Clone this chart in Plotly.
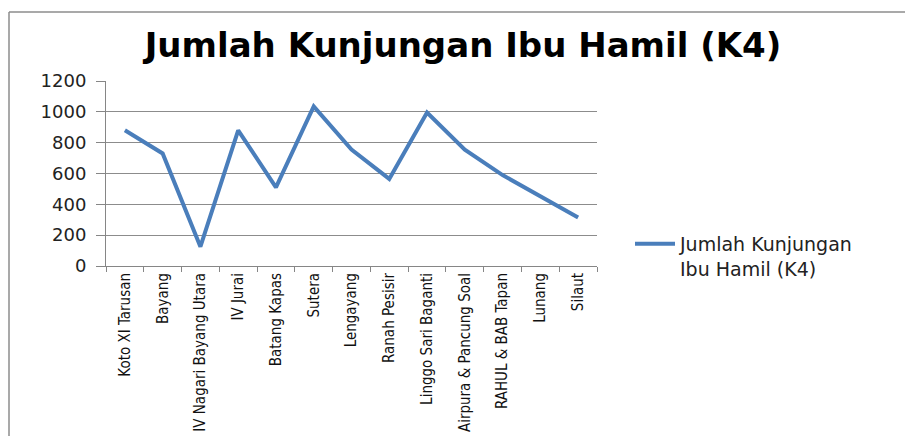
import plotly.graph_objects as go

categories = ["Koto XI Tarusan", "Bayang", "IV Nagari Bayang Utara", "IV Jurai",
              "Batang Kapas", "Sutera", "Lengayang", "Ranah Pesisir",
              "Linggo Sari Baganti", "Airpura & Pancung Soal", "RAHUL & BAB Tapan",
              "Lunang", "Silaut"]
values = [880, 730, 125, 880, 510, 1035, 755, 565, 995, 755, 590, 450, 315]
series_name = "Jumlah Kunjungan<br>Ibu Hamil (K4)"
y_ticks = [0, 200, 400, 600, 800, 1000, 1200]

fig = go.Figure()
fig.add_trace(go.Scatter(x=categories, y=values, mode="lines", name=series_name,
                         line=dict(color="#4A7EBB", width=4), showlegend=True))

# page has an 8px body margin; work in figure coordinates
W, H = 905, 428
l, r, t, b = 98, 316, 73, 170
pw, ph = W - l - r, H - t - b
fig.update_layout(
    width=W, height=H,
    margin=dict(l=l, r=r, t=t, b=b, autoexpand=False),
    paper_bgcolor="white", plot_bgcolor="white",
    title=dict(text="<b>Jumlah Kunjungan Ibu Hamil (K4)</b>", x=455/W, xanchor="center",
               y=1-37/H, yanchor="middle",
               font=dict(family="DejaVu Sans", size=34, color="black")),
    showlegend=True,
    legend=dict(x=(622-l)/pw, xanchor="left", y=(258-217)/ph, yanchor="top",
                valign="top",
                font=dict(family="DejaVu Sans", size=19, color="#222"),
                bgcolor="rgba(0,0,0,0)", itemwidth=40),
    xaxis=dict(type="category", range=[-0.5, len(categories)-0.5], tickangle=-90,
               ticks="outside", tickson="boundaries",
               ticklen=5, tickcolor="#868686", showline=True, linecolor="#868686",
               linewidth=1, showgrid=False,
               tickfont=dict(family="Liberation Sans Narrow, Arial Narrow, DejaVu Sans Condensed, sans-serif",
                             size=15, color="#111")),
    yaxis=dict(range=[0, 1200], tickvals=y_ticks, ticks="outside", ticklen=9,
               tickcolor="#868686", showline=True, linecolor="#868686", linewidth=1,
               showgrid=True, gridcolor="#8C8C8C", gridwidth=1, zeroline=False,
               ticklabelstandoff=6,
               tickfont=dict(family="DejaVu Sans", size=18, color="#222")),
    shapes=[
        dict(type="line", xref="paper", yref="paper",
             x0=(1-l)/pw, x1=(W-l)/pw,
             y0=1+(t-4)/ph, y1=1+(t-4)/ph,
             line=dict(color="#8C8C8C", width=1.5)),
        dict(type="line", xref="paper", yref="paper",
             x0=(1-l)/pw, x1=(1-l)/pw,
             y0=1+(t-4)/ph, y1=-(b)/ph,
             line=dict(color="#8C8C8C", width=1.5)),
    ],
)

fig.write_html("out.html")
